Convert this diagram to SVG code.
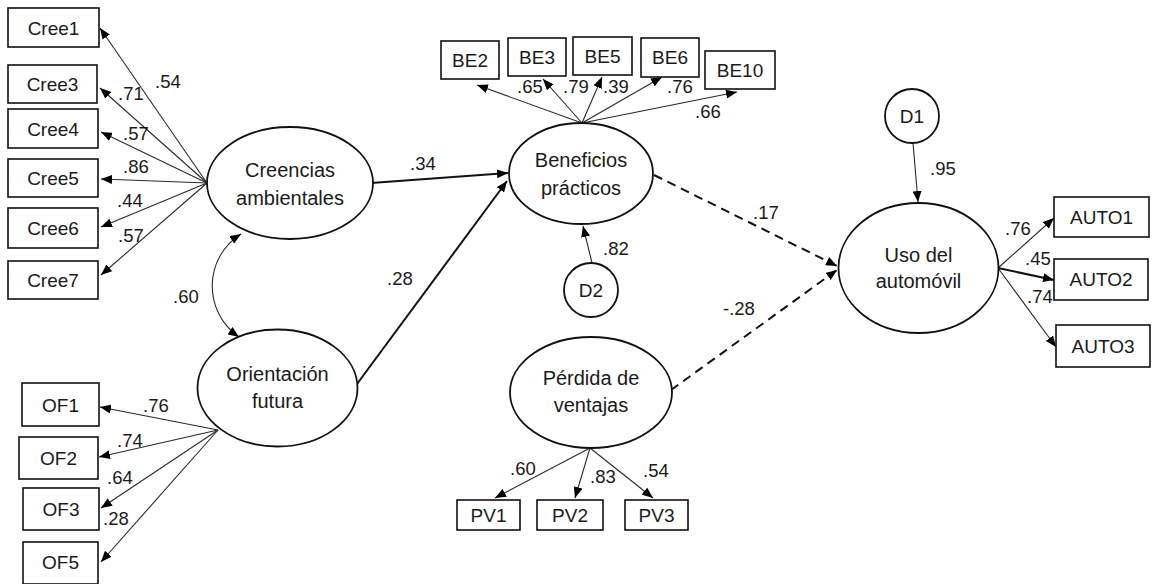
<svg xmlns="http://www.w3.org/2000/svg" width="1152" height="584" viewBox="0 0 1152 584">
  <style>
    text { font-family: "Liberation Sans", Arial, sans-serif; font-size: 18.5px; fill: #1a1a1a; }
    .node text { text-anchor: middle; font-size: 19px; }
    .node text.big { font-size: 20px; }
    .box { fill: #fff; stroke: #111; stroke-width: 1.6; }
    .lat { fill: #fff; stroke: #111; stroke-width: 1.8; }
    .load { stroke: #2a2a2a; stroke-width: 1.1; fill: none; marker-end: url(#arrow); }
    .path { stroke: #111; stroke-width: 2; fill: none; marker-end: url(#arrow); }
    .dash { stroke: #111; stroke-width: 2; fill: none; stroke-dasharray: 9 6; marker-end: url(#arrow); }
    .cov { stroke: #2a2a2a; stroke-width: 1.1; fill: none; marker-start: url(#arrow); marker-end: url(#arrow); }
  </style>
  <defs>
    <marker id="arrow" viewBox="0 0 11 9" refX="11" refY="4.5" markerWidth="11" markerHeight="9" markerUnits="userSpaceOnUse" orient="auto-start-reverse">
      <path d="M0,0 L11,4.5 L0,9 z" fill="#000"/>
    </marker>
  </defs>

  <rect width="1152" height="584" fill="#fff"/>

  <!-- connectors -->
  <g id="connectors">
    <!-- Creencias ambientales loadings -->
    <line class="load" x1="207" y1="183" x2="100" y2="28"/>
    <line class="load" x1="207" y1="183" x2="100" y2="88"/>
    <line class="load" x1="207" y1="183" x2="101" y2="132"/>
    <line class="load" x1="207" y1="183" x2="101" y2="179"/>
    <line class="load" x1="207" y1="183" x2="101" y2="227"/>
    <line class="load" x1="207" y1="183" x2="101" y2="275"/>
    <!-- Orientacion futura loadings -->
    <line class="load" x1="218" y1="430" x2="100" y2="407"/>
    <line class="load" x1="218" y1="430" x2="99" y2="457"/>
    <line class="load" x1="218" y1="430" x2="101" y2="508"/>
    <line class="load" x1="218" y1="430" x2="101" y2="562"/>
    <!-- Beneficios practicos loadings -->
    <line class="load" x1="582" y1="123" x2="477" y2="85"/>
    <line class="load" x1="582" y1="123" x2="543" y2="79"/>
    <line class="load" x1="582" y1="123" x2="602" y2="77"/>
    <line class="load" x1="582" y1="123" x2="662" y2="77"/>
    <line class="load" x1="582" y1="123" x2="737" y2="92"/>
    <!-- Uso del automovil loadings -->
    <line class="load" x1="998" y1="268" x2="1054" y2="218"/>
    <line class="path" x1="998" y1="268" x2="1054" y2="280"/>
    <line class="load" x1="998" y1="268" x2="1056" y2="347"/>
    <!-- Perdida de ventajas loadings -->
    <line class="load" x1="590" y1="448" x2="495" y2="498"/>
    <line class="load" x1="590" y1="448" x2="575" y2="498"/>
    <line class="load" x1="590" y1="448" x2="653" y2="498"/>
    <!-- disturbances -->
    <line class="load" x1="913" y1="143" x2="918" y2="202"/>
    <line class="load" x1="592" y1="263" x2="583" y2="226"/>
    <!-- structural paths -->
    <line class="path" x1="371" y1="183" x2="508" y2="173"/>
    <line class="path" x1="357" y1="384" x2="507" y2="181"/>
    <line class="dash" x1="654" y1="175" x2="837" y2="266"/>
    <line class="dash" x1="671" y1="390" x2="837" y2="270"/>
    <!-- correlation -->
    <path class="cov" d="M241,234 C203,258 203,312 239,337"/>
  </g>

  <!-- coefficient labels -->
  <g id="labels">
    <text x="155" y="88">.54</text>
    <text x="118" y="100">.71</text>
    <text x="123" y="140">.57</text>
    <text x="123" y="173">.86</text>
    <text x="117" y="207">.44</text>
    <text x="118" y="242">.57</text>
    <text x="143" y="412">.76</text>
    <text x="117" y="447">.74</text>
    <text x="107" y="484">.64</text>
    <text x="103" y="525">.28</text>
    <text x="173" y="303">.60</text>
    <text x="410" y="170">.34</text>
    <text x="387" y="285">.28</text>
    <text x="517" y="93">.65</text>
    <text x="563" y="93">.79</text>
    <text x="603" y="93">.39</text>
    <text x="667" y="93">.76</text>
    <text x="695" y="118">.66</text>
    <text x="603" y="255">.82</text>
    <text x="753" y="219">.17</text>
    <text x="723" y="315">-.28</text>
    <text x="930" y="175">.95</text>
    <text x="1005" y="235">.76</text>
    <text x="1025" y="265">.45</text>
    <text x="1027" y="303">.74</text>
    <text x="510" y="475">.60</text>
    <text x="590" y="483">.83</text>
    <text x="643" y="477">.54</text>
  </g>

  <!-- latent variables -->
  <g id="creencias" class="node">
    <ellipse class="lat" cx="290" cy="183" rx="83" ry="56"/>
    <text class="big" x="290" y="177">Creencias</text>
    <text class="big" x="290" y="205">ambientales</text>
  </g>
  <g id="orientacion" class="node">
    <ellipse class="lat" cx="277.5" cy="388" rx="80" ry="58.5"/>
    <text class="big" x="277.5" y="381">Orientación</text>
    <text class="big" x="277.5" y="408">futura</text>
  </g>
  <g id="beneficios" class="node">
    <ellipse class="lat" cx="581" cy="173.5" rx="72" ry="50.5"/>
    <text class="big" x="581" y="167">Beneficios</text>
    <text class="big" x="581" y="195">prácticos</text>
  </g>
  <g id="uso" class="node">
    <ellipse class="lat" cx="918.5" cy="268" rx="80" ry="65"/>
    <text class="big" x="918.5" y="262">Uso del</text>
    <text class="big" x="918.5" y="288">automóvil</text>
  </g>
  <g id="perdida" class="node">
    <ellipse class="lat" cx="591" cy="392.5" rx="81" ry="55.5"/>
    <text class="big" x="591" y="385">Pérdida de</text>
    <text class="big" x="591" y="412">ventajas</text>
  </g>
  <g id="d1" class="node">
    <circle class="lat" cx="912" cy="116" r="27"/>
    <text x="912" y="123">D1</text>
  </g>
  <g id="d2" class="node">
    <circle class="lat" cx="591" cy="290" r="27"/>
    <text x="591" y="297">D2</text>
  </g>

  <!-- observed indicators -->
  <g id="cree1" class="node"><rect class="box" x="8" y="8" width="91" height="39"/><text x="53.5" y="35">Cree1</text></g>
  <g id="cree3" class="node"><rect class="box" x="8" y="65" width="89" height="38"/><text x="52.5" y="91">Cree3</text></g>
  <g id="cree4" class="node"><rect class="box" x="8" y="109" width="90" height="39"/><text x="53" y="136">Cree4</text></g>
  <g id="cree5" class="node"><rect class="box" x="8" y="159" width="90" height="38"/><text x="53" y="185">Cree5</text></g>
  <g id="cree6" class="node"><rect class="box" x="8" y="208" width="90" height="40"/><text x="53" y="235">Cree6</text></g>
  <g id="cree7" class="node"><rect class="box" x="8" y="261" width="90" height="38"/><text x="53" y="287">Cree7</text></g>

  <g id="of1" class="node"><rect class="box" x="22" y="383" width="77" height="43"/><text x="60.5" y="412">OF1</text></g>
  <g id="of2" class="node"><rect class="box" x="19" y="437" width="79" height="42"/><text x="58.5" y="465">OF2</text></g>
  <g id="of3" class="node"><rect class="box" x="23" y="488" width="76" height="42"/><text x="61" y="516">OF3</text></g>
  <g id="of5" class="node"><rect class="box" x="23" y="542" width="75" height="42"/><text x="60.5" y="569">OF5</text></g>

  <g id="be2" class="node"><rect class="box" x="441" y="41" width="58" height="38"/><text x="470" y="67">BE2</text></g>
  <g id="be3" class="node"><rect class="box" x="508" y="38" width="58" height="38"/><text x="537" y="64">BE3</text></g>
  <g id="be5" class="node"><rect class="box" x="573" y="37" width="59" height="38"/><text x="602.5" y="63">BE5</text></g>
  <g id="be6" class="node"><rect class="box" x="641" y="38" width="58" height="39"/><text x="670" y="64">BE6</text></g>
  <g id="be10" class="node"><rect class="box" x="705" y="51" width="70" height="38"/><text x="740" y="77">BE10</text></g>

  <g id="auto1" class="node"><rect class="box" x="1054" y="197" width="95" height="40"/><text x="1101.5" y="224">AUTO1</text></g>
  <g id="auto2" class="node"><rect class="box" x="1054" y="259" width="94" height="41"/><text x="1101" y="286">AUTO2</text></g>
  <g id="auto3" class="node"><rect class="box" x="1056" y="325" width="94" height="42"/><text x="1103" y="353">AUTO3</text></g>

  <g id="pv1" class="node"><rect class="box" x="457" y="500" width="63" height="30"/><text x="488.5" y="522">PV1</text></g>
  <g id="pv2" class="node"><rect class="box" x="537" y="500" width="66" height="30"/><text x="570" y="522">PV2</text></g>
  <g id="pv3" class="node"><rect class="box" x="625" y="500" width="63" height="30"/><text x="656.5" y="522">PV3</text></g>
</svg>
